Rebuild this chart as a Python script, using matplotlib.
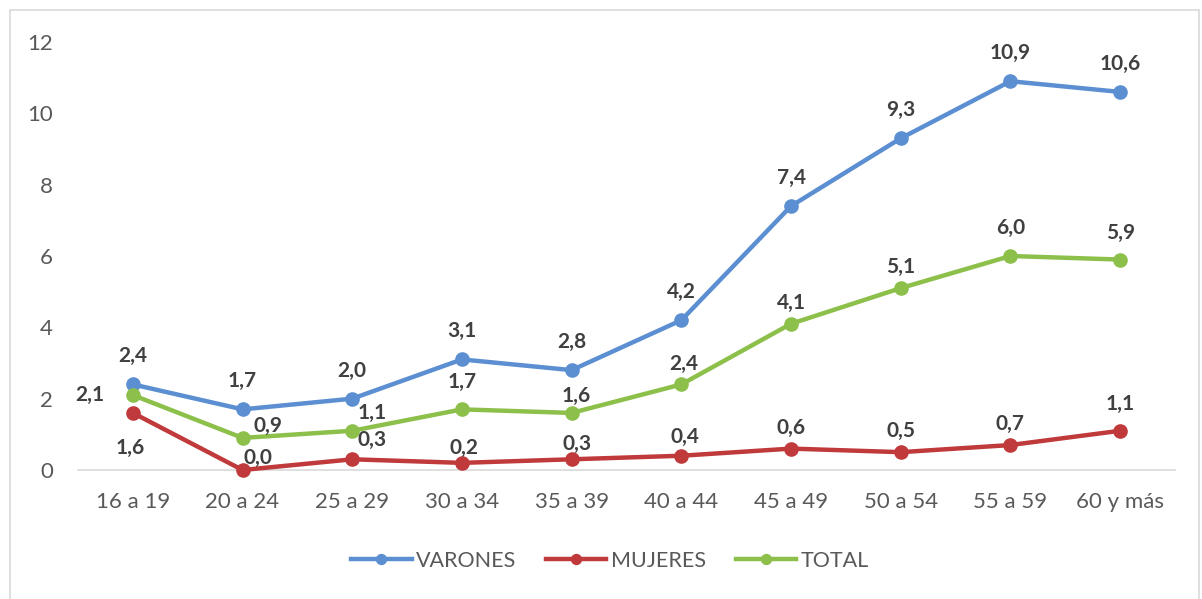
import matplotlib
matplotlib.use("Agg")
import matplotlib.pyplot as plt
from matplotlib.patches import Rectangle

categories = ["16 a 19", "20 a 24", "25 a 29", "30 a 34", "35 a 39",
              "40 a 44", "45 a 49", "50 a 54", "55 a 59", "60 y más"]
varones = [2.4, 1.7, 2.0, 3.1, 2.8, 4.2, 7.4, 9.3, 10.9, 10.6]
mujeres = [1.6, 0.0, 0.3, 0.2, 0.3, 0.4, 0.6, 0.5, 0.7, 1.1]
total = [2.1, 0.9, 1.1, 1.7, 1.6, 2.4, 4.1, 5.1, 6.0, 5.9]
yticks = [0, 2, 4, 6, 8, 10, 12]

# label offsets in pixels (dx, dy)
off_var = [(0, 28)] * 10
off_muj = [(-3, -35), (15, 12), (20, 19), (2, 15), (5, 15), (4, 19), (0, 21), (0, 21), (0, 21), (0, 27)]
off_tot = [(-43, 0), (25, 12), (20, 18), (0, 27), (5, 17), (2, 20), (0, 21), (0, 21), (0, 28), (0, 27)]

plt.rcParams['font.family'] = ['Lato', 'DejaVu Sans']

W, H = 1202, 599
fig = plt.figure(figsize=(W / 100, H / 100), dpi=100)
ax = fig.add_axes([78 / W, (H - 470) / H, (1175 - 78) / W, (470 - 42) / H])

# outer frame
fig.patches.append(Rectangle((10 / W, -0.05), (1199 - 10) / W, (H - 10) / H + 0.05,
                             transform=fig.transFigure, fill=False,
                             edgecolor="#d9d9d9", linewidth=1.2))

x = list(range(len(categories)))
series = [("VARONES", varones, "#5b8fd1", off_var),
          ("MUJERES", mujeres, "#c0393b", off_muj),
          ("TOTAL", total, "#8cc04a", off_tot)]

for name, vals, col, offs in series:
    ax.plot(x, vals, color=col, linewidth=3.2, marker="o", markersize=9.5,
            label=name, clip_on=False, zorder=3)
    for xi, v, (dx, dy) in zip(x, vals, offs):
        ax.annotate(f"{v:.1f}".replace(".", ","), (xi, v), xytext=(dx, dy),
                    textcoords="offset pixels", ha="center", va="center",
                    fontsize=15, fontweight="bold", color="#404040", zorder=4)

ax.set_xlim(-0.5, len(categories) - 0.5)
ax.set_ylim(0, 12)
ax.set_yticks(yticks)
ax.set_xticks(x)
ax.set_xticklabels(categories)
for s in ["top", "right", "left"]:
    ax.spines[s].set_visible(False)
ax.spines["bottom"].set_color("#d9d9d9")
ax.spines["bottom"].set_linewidth(1.2)
ax.tick_params(axis="both", length=0, labelsize=16, labelcolor="#595959")
ax.tick_params(axis="x", pad=16)
ax.tick_params(axis="y", pad=18)

leg = fig.legend(loc="center", bbox_to_anchor=(610 / W, (H - 561) / H), ncol=3,
                 frameon=False, fontsize=15.5, handlelength=2.8, columnspacing=1.4,
                 handletextpad=0.2, markerscale=0.75)
for t in leg.get_texts():
    t.set_color("#595959")

fig.savefig("out.png", dpi=100)
